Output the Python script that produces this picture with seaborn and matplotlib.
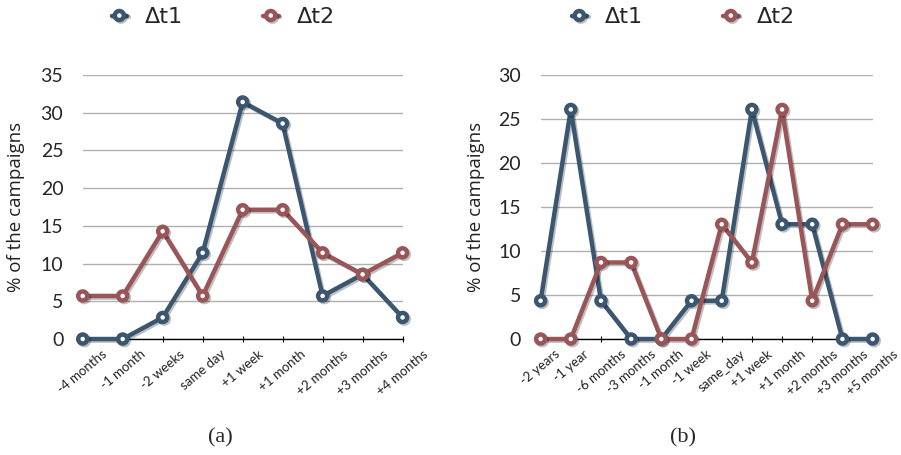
import numpy as np
import pandas as pd
import matplotlib
matplotlib.use('Agg')
import matplotlib.pyplot as plt
import matplotlib.patheffects as pe
import seaborn as sns

# datos del panel (a)
labels_a = ['-4 months', '-1 month', '-2 weeks', 'same day', '+1 week',
            '+1 month', '+2 months', '+3 months', '+4 months']
dt1_a = [0, 0, 2.86, 11.43, 31.43, 28.57, 5.71, 8.57, 2.86]
dt2_a = [5.71, 5.71, 14.29, 5.71, 17.14, 17.14, 11.43, 8.57, 11.43]

# datos del panel (b)
labels_b = ['-2 years', '-1 year', '-6 months', '-3 months', '-1 month', '-1 week',
            'same_day', '+1 week', '+1 month', '+2 months', '+3 months', '+5 months']
dt1_b = [4.35, 26.09, 4.35, 0, 0, 4.35, 4.35, 26.09, 13.04, 13.04, 0, 0]
dt2_b = [0, 0, 8.70, 8.70, 0, 0, 13.04, 8.70, 26.09, 4.35, 13.04, 13.04]

series_names = ['Δt1', 'Δt2']
colores = ['#3b5670', '#9a5558']

sns.set_theme(style='white')
plt.rcParams['font.family'] = ['DejaVu Sans']

fig = plt.figure(figsize=(9.01, 4.55), dpi=100)
ax_a = fig.add_axes([0.0918, 0.2549, 0.355, 0.5802])
ax_b = fig.add_axes([0.600, 0.2549, 0.3685, 0.5802])

sombra = [pe.SimpleLineShadow(offset=(1.2, -1.2), alpha=0.25, shadow_color='black'), pe.Normal()]


def dibujar(ax, labels, s1, s2, ymax, ylab_x, leg_x, caption, cap_x):
    x = np.arange(len(labels))
    for vals, name, c in zip([s1, s2], series_names, colores):
        df = pd.DataFrame({'x': x, 'y': vals})
        sns.lineplot(data=df, x='x', y='y', ax=ax, color=c, linewidth=3.2,
                     marker='o', markersize=6.5, markerfacecolor='white',
                     markeredgecolor=c, markeredgewidth=3.2, label=name,
                     clip_on=False, path_effects=sombra, zorder=3)
    ax.set_xlim(0, len(labels) - 1)
    ax.set_ylim(0, ymax)
    ax.set_yticks(range(0, ymax + 1, 5))
    ax.yaxis.grid(True, color='#b0b0b0', linewidth=1.0)
    ax.set_axisbelow(True)
    for s in ['left', 'right', 'top']:
        ax.spines[s].set_visible(False)
    ax.spines['bottom'].set_color('black')
    ax.spines['bottom'].set_linewidth(1.0)
    ax.set_xticks(x)
    ax.set_xticklabels(labels, rotation=40, fontsize=9.5, family='Lato', color='#222222')
    ax.tick_params(axis='x', direction='inout', length=5, width=0.8, color='black', pad=4, bottom=True)
    ax.tick_params(axis='y', length=0, pad=14, labelsize=14)
    for t in ax.get_yticklabels():
        t.set_family('Lato')
    ax.set_xlabel('')
    ax.set_ylabel('% of the campaigns', fontsize=13.5, family='Open Sans', color='#222222')
    ax.yaxis.set_label_coords(ylab_x, 0.5)
    ax.legend(loc='center', bbox_to_anchor=(leg_x, 0.962), bbox_transform=fig.transFigure,
              ncol=2, frameon=False, fontsize=16, handlelength=0.7,
              handletextpad=0.8, columnspacing=3.6)
    fig.text(cap_x, 1 - 438 / 455, caption, ha='center', va='center',
             fontsize=16, family='Liberation Serif')


dibujar(ax_a, labels_a, dt1_a, dt2_a, 35, -0.180, 223 / 901, '(a)', 220 / 901)
dibujar(ax_b, labels_b, dt1_b, dt2_b, 30, -0.168, 683 / 901, '(b)', 683 / 901)

fig.savefig('out.png', dpi=100)
